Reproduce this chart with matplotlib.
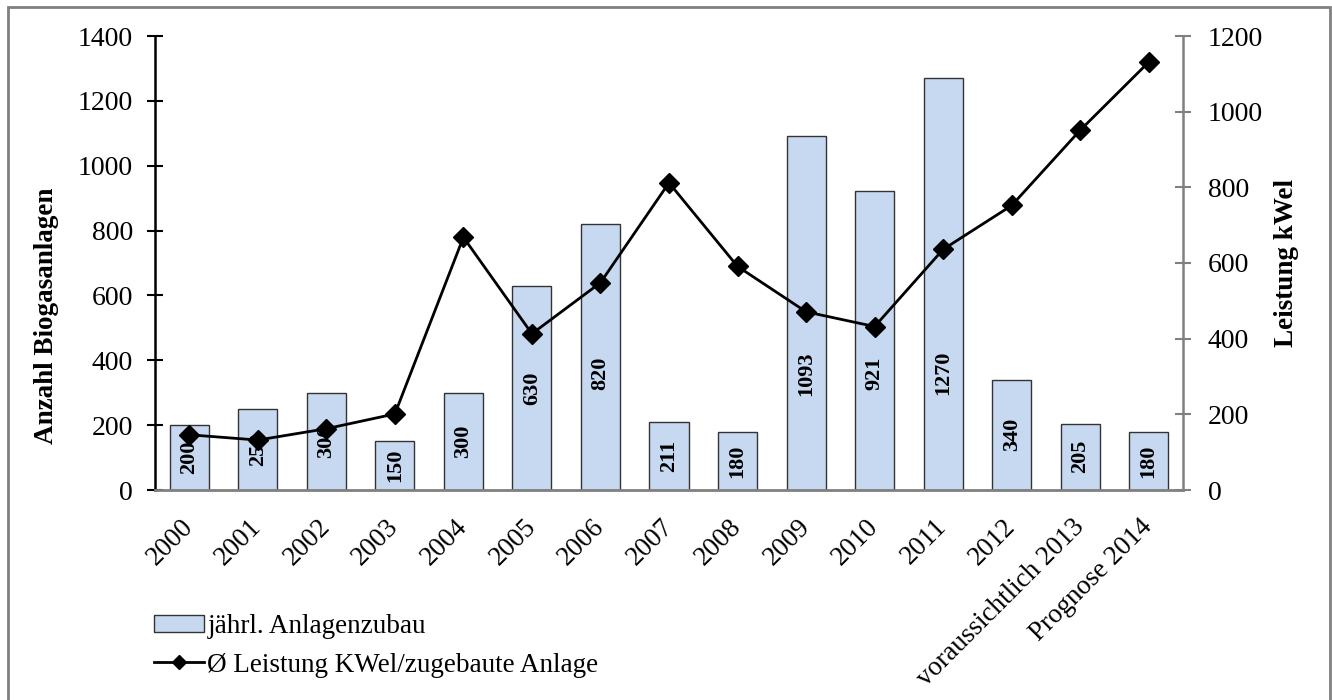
"""
Biogasanlagen: jährlicher Zubau (Balken) und mittlere Leistung je Anlage (Linie).
"""

import matplotlib
matplotlib.use('Agg')
import matplotlib.pyplot as plt
from matplotlib.patches import Rectangle
from matplotlib.lines import Line2D

plt.rcParams['font.family'] = ['Liberation Serif', 'DejaVu Serif']

years = ['2000', '2001', '2002', '2003', '2004', '2005', '2006', '2007',
         '2008', '2009', '2010', '2011', '2012', 'voraussichtlich 2013',
         'Prognose 2014']
zubau = [200, 250, 300, 150, 300, 630, 820, 211, 180, 1093, 921, 1270,
         340, 205, 180]
leistung = [146, 132, 162, 201, 668, 413, 548, 812, 591, 471, 432, 636,
            752, 951, 1131]

bar_color = '#C6D9F0'
gray = '#808080'

fig = plt.figure(figsize=(13.32, 7), dpi=100)
ax = fig.add_axes([155 / 1332, 1 - 490 / 700, 1028 / 1332, 454 / 700])
ax2 = ax.twinx()

x = list(range(len(years)))
ax.bar(x, zubau, width=0.57, color=bar_color, edgecolor='#333333',
       linewidth=1.0, zorder=2)
# Beschriftung mittig im Balken, bei hohen Balken aber nicht höher als ~360
for xi, v in zip(x, zubau):
    ax.text(xi, min(v / 2, 360), str(v), rotation=90, ha='center',
            va='center', fontsize=16, fontweight='bold', zorder=3)

ax2.plot(x, leistung, color='black', linewidth=2, marker='D',
         markersize=10, zorder=3)

ax.set_xlim(-0.5, len(years) - 0.5)
ax.set_ylim(0, 1400)
ax.set_yticks(range(0, 1401, 200))
ax2.set_ylim(0, 1200)
ax2.set_yticks(range(0, 1201, 200))

ax.set_xticks(x)
ax.set_xticklabels(years, rotation=45, ha='right', va='center',
                   rotation_mode='anchor', fontsize=19.5)
ax.tick_params(axis='x', length=0, pad=24)
ax.tick_params(axis='y', direction='inout', length=12, width=1.5,
               labelsize=20, pad=10)
ax2.tick_params(axis='y', direction='inout', length=12, width=1.5,
                colors=gray, labelcolor='black', labelsize=20, pad=12)

ax.set_ylabel('Anzahl Biogasanlagen', fontsize=19.5, fontweight='bold')
ax.yaxis.set_label_coords(-0.093, 0.383)
ax2.set_ylabel('Leistung kWel', fontsize=19.5, fontweight='bold',
               labelpad=8)

for a in (ax, ax2):
    a.spines['top'].set_visible(False)
ax.spines['left'].set_linewidth(1.8)
ax.spines['left'].set_color('black')
ax.spines['bottom'].set_color(gray)
ax.spines['bottom'].set_linewidth(2)
ax.spines['right'].set_visible(False)
ax2.spines['left'].set_visible(False)
ax2.spines['bottom'].set_visible(False)
ax2.spines['right'].set_color(gray)
ax2.spines['right'].set_linewidth(1.8)
ax.set_zorder(1)
ax2.set_zorder(2)
ax2.patch.set_visible(False)

handles = [Rectangle((0, 0), 1, 1, facecolor=bar_color, edgecolor='#333333',
                     linewidth=1.0),
           Line2D([], [], color='black', linewidth=2, marker='D',
                  markersize=7.5)]
labels = ['jährl. Anlagenzubau', 'Ø Leistung KWel/zugebaute Anlage']
fig.legend(handles, labels, loc='upper left',
           bbox_to_anchor=(154 / 1332, 1 - 614 / 700), frameon=False,
           fontsize=19.5, handlelength=1.85, handleheight=0.6,
           handletextpad=0.12, labelspacing=0.5, borderaxespad=0,
           borderpad=0)

fig.add_artist(Rectangle((8 / 1332, -0.01), 1322 / 1332, 1 - 7 / 700 + 0.01,
                         transform=fig.transFigure, fill=False,
                         edgecolor=gray, linewidth=2))

fig.savefig('out.png', dpi=100)
